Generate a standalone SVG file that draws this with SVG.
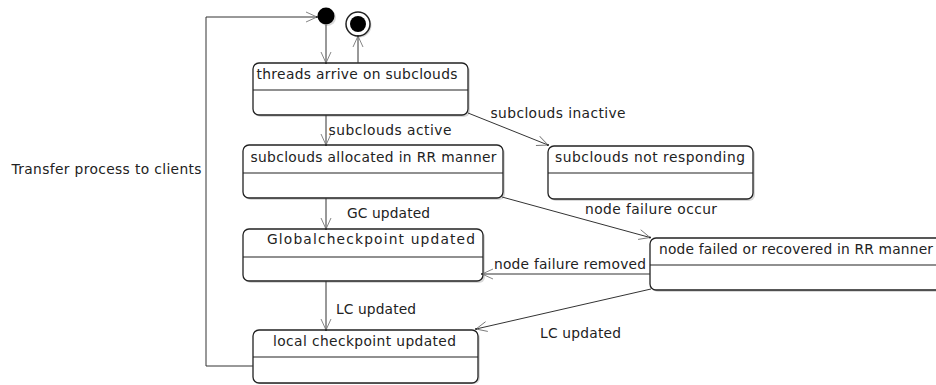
<svg xmlns="http://www.w3.org/2000/svg" width="936" height="385" viewBox="0 0 936 385">
<style>
text{font-family:"DejaVu Sans","Liberation Sans",sans-serif;font-size:13.8px;fill:#222}
.box{fill:#fff;stroke:#222;stroke-width:1.3}
.sh{fill:#000;opacity:0.15}
.div{stroke:#222;stroke-width:1.2}
.c{fill:none;stroke:#333;stroke-width:1}
.t{text-anchor:middle}
</style>
<defs>
<marker id="ar" viewBox="-12 -6 14 12" refX="0" refY="0" markerWidth="14" markerHeight="12" markerUnits="userSpaceOnUse" orient="auto">
<path d="M-11,-5 L0,0 L-11,5" fill="none" stroke="#777" stroke-width="0.9"/>
<circle cx="0" cy="0" r="1" fill="#222"/>
</marker>
</defs>
<rect width="936" height="385" fill="#fff"/>
<g id="initial">
<circle cx="327.5" cy="17.5" r="8.5" class="sh"/>
<circle cx="326" cy="16" r="8.5" fill="#000"/>
</g>
<g id="final">
<circle cx="359.5" cy="25.5" r="12" class="sh"/>
<circle cx="358" cy="24" r="12" fill="#fff" stroke="#222" stroke-width="1.5"/>
<circle cx="358" cy="24" r="8" fill="#000"/>
</g>
<g id="s1">
<rect x="255" y="65" width="215" height="52" rx="6" class="sh"/>
<rect x="253" y="63" width="215" height="52" rx="6" class="box"/>
<line x1="253" y1="90" x2="468" y2="90" class="div"/>
<text x="357" y="78.5" class="t" textLength="201">threads arrive on subclouds</text>
</g>
<g id="s2">
<rect x="245" y="147" width="260" height="53" rx="6" class="sh"/>
<rect x="243" y="145" width="260" height="53" rx="6" class="box"/>
<line x1="243" y1="173" x2="503" y2="173" class="div"/>
<text x="373.5" y="162" class="t" textLength="246">subclouds allocated in RR manner</text>
</g>
<g id="s3">
<rect x="245" y="231" width="240" height="52" rx="6" class="sh"/>
<rect x="243" y="229" width="240" height="52" rx="6" class="box"/>
<line x1="243" y1="257" x2="483" y2="257" class="div"/>
<text x="371" y="244" class="t" textLength="208">Globalcheckpoint updated</text>
</g>
<g id="s4">
<rect x="255" y="332" width="225" height="52" rx="6" class="sh"/>
<rect x="253" y="330" width="225" height="53" rx="6" class="box"/>
<line x1="253" y1="357" x2="478" y2="357" class="div"/>
<text x="364.5" y="345.5" class="t" textLength="183">local checkpoint updated</text>
</g>
<g id="s5">
<rect x="550" y="148" width="205" height="53" rx="6" class="sh"/>
<rect x="548" y="146" width="205" height="53" rx="6" class="box"/>
<line x1="548" y1="173" x2="753" y2="173" class="div"/>
<text x="650" y="162" class="t" textLength="190">subclouds not responding</text>
</g>
<g id="s6">
<rect x="652" y="240" width="300" height="52" rx="6" class="sh"/>
<rect x="650" y="238" width="300" height="52" rx="6" class="box"/>
<line x1="650" y1="265" x2="950" y2="265" class="div"/>
<text x="659" y="254" textLength="274">node failed or recovered in RR manner</text>
</g>
<g id="connectors">
<line x1="326" y1="25" x2="326" y2="63" class="c" marker-end="url(#ar)"/>
<line x1="358" y1="63" x2="358" y2="36" class="c" marker-end="url(#ar)"/>
<line x1="326" y1="115" x2="326" y2="145" class="c" marker-end="url(#ar)"/>
<line x1="468" y1="113" x2="548" y2="145" class="c" marker-end="url(#ar)"/>
<line x1="326" y1="198" x2="326" y2="229" class="c" marker-end="url(#ar)"/>
<line x1="502" y1="197" x2="650" y2="237.5" class="c" marker-end="url(#ar)"/>
<line x1="650" y1="274" x2="482" y2="274" class="c" marker-end="url(#ar)"/>
<line x1="326" y1="281" x2="326" y2="330" class="c" marker-end="url(#ar)"/>
<line x1="651" y1="289" x2="476" y2="329" class="c" marker-end="url(#ar)"/>
<polyline points="253,366 206,366 206,17 317,17" class="c" marker-end="url(#ar)"/>
<text x="328.5" y="134.5" textLength="123">subclouds active</text>
<text x="490.5" y="117.5" textLength="135">subclouds inactive</text>
<text x="347" y="218" textLength="83">GC updated</text>
<text x="585" y="214" textLength="132">node failure occur</text>
<text x="494" y="269" textLength="152">node failure removed</text>
<text x="336" y="313.5" textLength="80">LC updated</text>
<text x="540" y="337.5" textLength="81">LC updated</text>
<text x="11.5" y="174" textLength="190">Transfer process to clients</text>
</g>
</svg>
